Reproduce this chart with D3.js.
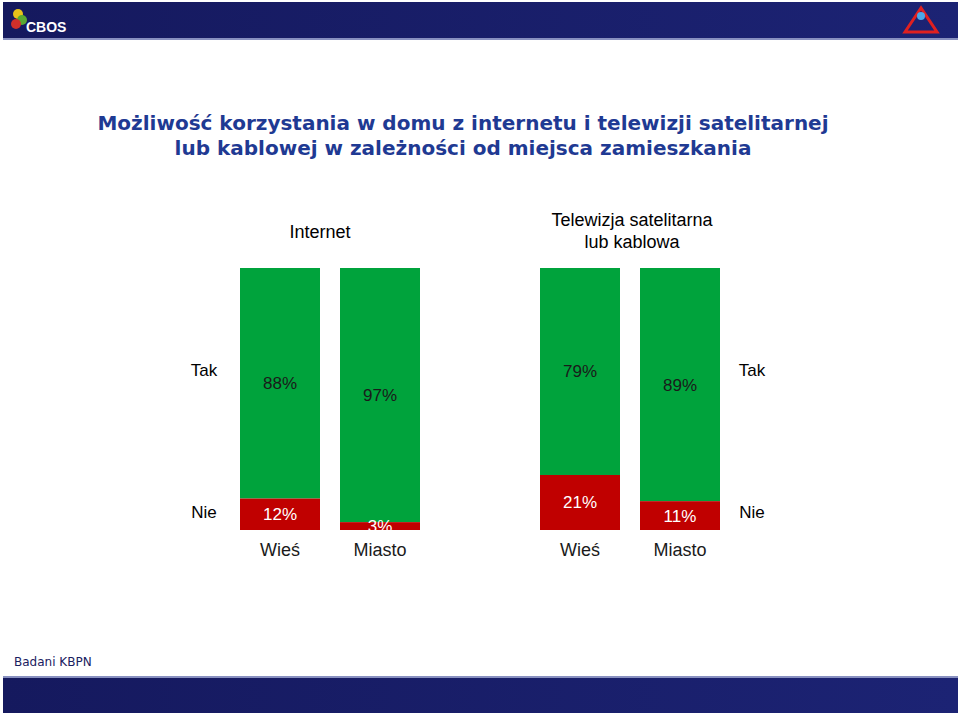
<!DOCTYPE html><html><head><meta charset="utf-8"><script src="https://cdn.jsdelivr.net/npm/d3@7"></script>
<style>body{margin:0;background:#fff}</style></head><body><svg id="c" width="960" height="716"></svg>
<script>
const groups=["Internet","Telewizja satelitarna lub kablowa"];
const categories=["Wieś","Miasto","Wieś","Miasto"];
const groupOf=[0,0,1,1];
const tak=[88,97,79,89];
const nie=[12,3,21,11];
const svg=d3.select("#c");
const F="Arial, 'Liberation Sans', sans-serif";
// header/footer bands
const grad=svg.append("defs").append("linearGradient").attr("id","g").attr("x1",0).attr("x2",1);
grad.append("stop").attr("offset",0).attr("stop-color","#15195e");
grad.append("stop").attr("offset",1).attr("stop-color","#1c2374");
svg.append("rect").attr("x",3).attr("y",2).attr("width",955).attr("height",36).attr("fill","url(#g)");
svg.append("rect").attr("x",3).attr("y",38).attr("width",955).attr("height",2).attr("fill","#8890c0");
svg.append("rect").attr("x",3).attr("y",676).attr("width",955).attr("height",2).attr("fill","#8890c0");
svg.append("rect").attr("x",3).attr("y",678).attr("width",955).attr("height",35).attr("fill","url(#g)");
svg.append("circle").attr("cx",18).attr("cy",14).attr("r",5).attr("fill","#e8c21a");
svg.append("circle").attr("cx",22).attr("cy",20).attr("r",5).attr("fill","#5aa832");
svg.append("circle").attr("cx",16).attr("cy",24).attr("r",5).attr("fill","#d0302a");
svg.append("text").attr("x",26).attr("y",32).attr("fill","#fff").attr("font-family",F).attr("font-weight","bold").attr("font-size",14).text("CBOS");
svg.append("path").attr("d","M905,32 L921,8 L937,32 Z").attr("fill","none").attr("stroke","#e02020").attr("stroke-width",3);
svg.append("circle").attr("cx",921).attr("cy",16).attr("r",4).attr("fill","#4aa8e8");
svg.append("text").attr("x",14).attr("y",666).attr("fill","#1a2060").attr("font-family","Verdana, 'DejaVu Sans', sans-serif").attr("font-size",12).text("Badani KBPN");
// title
const t=svg.append("text").attr("text-anchor","middle").attr("fill","#1f3a93").attr("font-family","Verdana, 'DejaVu Sans', sans-serif").attr("font-weight","bold").attr("font-size",20);
t.append("tspan").attr("x",463).attr("y",130).text("Możliwość korzystania w domu z internetu i telewizji satelitarnej");
t.append("tspan").attr("x",463).attr("y",155).text("lub kablowej w zależności od miejsca zamieszkania");
// scales
const x=d3.scaleBand().domain(d3.range(4)).range([220,740]).paddingInner(0.25).paddingOuter(0.125);
const xs=[240,340,540,640];
const xb=i=>xs[i];
const bw=80;
const y=d3.scaleLinear().domain([0,100]).range([530,268]);
const g=svg.append("g").attr("font-family",F);
categories.forEach((c,i)=>{
  g.append("rect").attr("x",xb(i)).attr("width",bw).attr("y",y(100)).attr("height",y(nie[i])-y(100)).attr("fill","#00a33c");
  g.append("rect").attr("x",xb(i)).attr("width",bw).attr("y",y(nie[i])).attr("height",y(0)-y(nie[i])).attr("fill","#c00000");
  g.append("text").attr("x",xb(i)+bw/2).attr("y",(y(100)+y(nie[i]))/2+6).attr("text-anchor","middle").attr("font-size",17).attr("fill","#1a1a1a").text(tak[i]+"%");
  g.append("text").attr("x",xb(i)+bw/2).attr("y",(y(nie[i])+y(0))/2+6).attr("text-anchor","middle").attr("font-size",17).attr("fill","#fff").text(nie[i]+"%");
  g.append("text").attr("x",xb(i)+bw/2).attr("y",556).attr("text-anchor","middle").attr("font-size",18).attr("fill","#1a1a1a").text(c);
});
g.append("text").attr("x",320).attr("y",238).attr("text-anchor","middle").attr("font-size",18).text(groups[0]);
const gt=g.append("text").attr("text-anchor","middle").attr("font-size",18);
gt.append("tspan").attr("x",632).attr("y",226).text("Telewizja satelitarna");
gt.append("tspan").attr("x",632).attr("y",248).text("lub kablowa");
[[204],[752]].forEach(([xx])=>{
  g.append("text").attr("x",xx).attr("y",376).attr("text-anchor","middle").attr("font-size",17).text("Tak");
  g.append("text").attr("x",xx).attr("y",518).attr("text-anchor","middle").attr("font-size",17).text("Nie");
});
</script></body></html>
